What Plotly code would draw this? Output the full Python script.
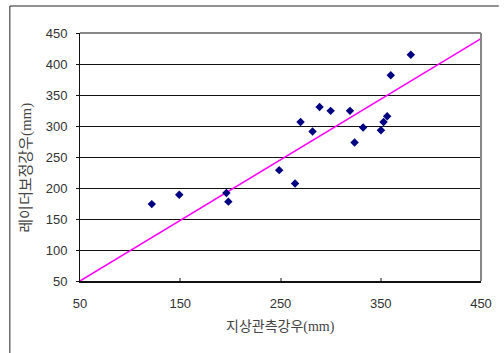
import plotly.graph_objects as go

# Data
ground_rain = [121.6, 149, 196, 198, 248.7, 264.5, 270, 282, 289, 300,
               319.3, 323.9, 332.4, 350.2, 352.8, 356.4, 360, 380]
radar_rain = [174, 189, 192, 178, 228.8, 207.3, 306.6, 291, 330.8, 324.4,
              324.4, 273.4, 297.5, 293.2, 306.6, 315.8, 381.8, 415]
line_x = [50, 451]
line_y = [50, 442]
x_ticks = [50, 150, 250, 350, 450]
y_ticks = [50, 100, 150, 200, 250, 300, 350, 400, 450]
x_title = "지상관측강우(mm)"
y_title = "레이더보정강우(mm)"

L, R, T, B = 80, 18, 33, 72
W, H = 504, 353
pw, ph = W - L - R, H - T - B

fig = go.Figure()
fig.add_trace(go.Scatter(x=line_x, y=line_y, mode="lines",
                         line=dict(color="#FF00FF", width=1.5),
                         showlegend=False, hoverinfo="skip", cliponaxis=False))
fig.add_trace(go.Scatter(x=ground_rain, y=radar_rain, mode="markers",
                         marker=dict(symbol="diamond", size=6.5, color="#000080"),
                         showlegend=False))

tickfont = dict(family="Liberation Sans, Arial", size=13, color="#333333")
fig.update_xaxes(range=[50, 450], tickvals=x_ticks, ticks="inside", ticklen=3,
                 tickcolor="#888888", tickwidth=2, showgrid=False,
                 showline=True, linecolor="#111111", linewidth=2,
                 tickfont=tickfont, ticklabelstandoff=9, zeroline=False)
fig.update_yaxes(range=[50, 450], tickvals=y_ticks, ticks="outside", ticklen=3,
                 tickcolor="#111111", showgrid=True, gridcolor="#111111",
                 gridwidth=1, showline=True, linecolor="#111111", linewidth=1,
                 tickfont=tickfont, ticklabelstandoff=6, zeroline=False)

shapes = [
    # top border of plot area
    dict(type="line", xref="paper", yref="paper", x0=0, x1=1, y0=1, y1=1,
         line=dict(color="#111111", width=1)),
    # right border (gray)
    dict(type="line", xref="paper", yref="paper", x0=1, x1=1, y0=0, y1=1,
         line=dict(color="#888888", width=2)),
    # outer chart frame (partly cropped): top and left edges only
    dict(type="line", xref="paper", yref="paper",
         x0=(9 - L) / pw, x1=(W - L) / pw,
         y0=(T + ph - 6) / ph, y1=(T + ph - 6) / ph,
         line=dict(color="#222222", width=1)),
    dict(type="line", xref="paper", yref="paper",
         x0=(9 - L) / pw, x1=(9 - L) / pw,
         y0=(T + ph - 6) / ph, y1=(T + ph - H) / ph,
         line=dict(color="#222222", width=1)),
]

title_font = dict(family="Liberation Serif, Noto Sans CJK KR", size=14, color="#444444")
annotations = [
    dict(text=x_title, xref="paper", yref="paper",
         x=(283 - L) / pw, y=(T + ph - 327) / ph, showarrow=False,
         xanchor="center", yanchor="middle", font=title_font),
    dict(text=y_title, xref="paper", yref="paper",
         x=(25 - L) / pw, y=(T + ph - 168) / ph, showarrow=False, textangle=-90,
         xanchor="center", yanchor="middle",
         font=dict(family="Liberation Serif, Noto Sans CJK KR", size=15, color="#444444")),
]

fig.update_layout(width=W, height=H, margin=dict(l=L, r=R, t=T, b=B),
                  paper_bgcolor="white", plot_bgcolor="white",
                  shapes=shapes, annotations=annotations)

fig.write_html("out.html", config={"displayModeBar": False},
               post_script="document.body.style.margin='0';document.body.style.overflow='hidden';")
